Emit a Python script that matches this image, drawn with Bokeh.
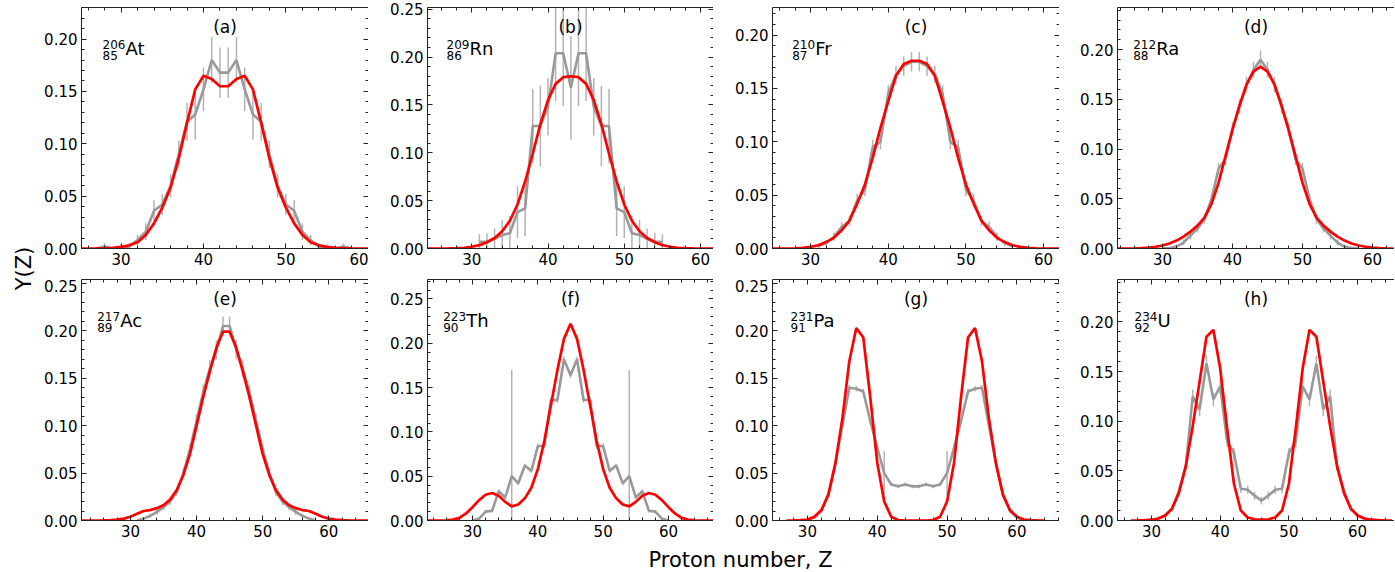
from bokeh.plotting import figure
from bokeh.models import (Range1d, LinearAxis, SingleIntervalTicker, Label, ColumnDataSource,
                          PrintfTickFormatter, CustomJSTickFormatter)
from bokeh.layouts import row, column
from bokeh.embed import file_html
from bokeh.resources import INLINE
from bokeh.core.properties import value

FONT = "DejaVu Sans"

# ---------------- data ----------------
panel_tags = ["(a)", "(b)", "(c)", "(d)", "(e)", "(f)", "(g)", "(h)"]
mass_numbers = ["206", "209", "210", "212", "217", "223", "231", "234"]
charge_numbers = ["85", "86", "87", "88", "89", "90", "91", "92"]
elements = ["At", "Rn", "Fr", "Ra", "Ac", "Th", "Pa", "U"]

# theory (red) curves: first Z of each list
theory_z0 = [25, 24, 25, 23, 22, 23, 27, 27]
theory_a = [0.0, 0.0, 0.0001, 0.0003, 0.0007, 0.0015, 0.003, 0.006, 0.013, 0.024, 0.039, 0.058,
            0.086, 0.12, 0.152, 0.165, 0.162, 0.155, 0.155, 0.162, 0.165, 0.152, 0.12, 0.086,
            0.058, 0.039, 0.024, 0.013, 0.006, 0.003, 0.0015, 0.0007, 0.0003, 0.0001, 0.0, 0.0]
theory_b = [0.0, 0.0, 0.0, 0.0001, 0.0003, 0.0008, 0.0018, 0.0035, 0.0065, 0.011, 0.018, 0.029,
            0.046, 0.07, 0.099, 0.13, 0.155, 0.172, 0.179, 0.18, 0.179, 0.172, 0.155, 0.13, 0.099,
            0.07, 0.046, 0.029, 0.018, 0.011, 0.0065, 0.0035, 0.0018, 0.0008, 0.0003, 0.0001,
            0.0, 0.0, 0.0]
theory_c = [0.0, 0.0, 0.0, 0.0002, 0.0006, 0.0015, 0.003, 0.006, 0.01, 0.017, 0.026, 0.042,
            0.06, 0.085, 0.113, 0.138, 0.162, 0.173, 0.176, 0.176, 0.173, 0.162, 0.138, 0.113,
            0.085, 0.06, 0.042, 0.026, 0.017, 0.01, 0.006, 0.003, 0.0015, 0.0006, 0.0002,
            0.0, 0.0, 0.0, 0.0]
theory_d = [0.0, 0.0, 0.0, 0.0001, 0.0003, 0.0008, 0.0018, 0.003, 0.005, 0.008, 0.012, 0.017,
            0.023, 0.031, 0.045, 0.066, 0.093, 0.12, 0.144, 0.165, 0.178, 0.183, 0.178, 0.165,
            0.144, 0.12, 0.093, 0.066, 0.045, 0.031, 0.023, 0.017, 0.012, 0.008, 0.005, 0.003,
            0.0018, 0.0008, 0.0003, 0.0001, 0.0]
theory_e = [0.0, 0.0, 0.0, 0.0, 0.0002, 0.0005, 0.001, 0.002, 0.004, 0.007, 0.01, 0.011, 0.013,
            0.016, 0.022, 0.032, 0.048, 0.07, 0.1, 0.13, 0.157, 0.182, 0.199, 0.199, 0.182, 0.157,
            0.13, 0.1, 0.07, 0.048, 0.032, 0.022, 0.016, 0.013, 0.011, 0.01, 0.007, 0.004, 0.002,
            0.001, 0.0005, 0.0002, 0.0, 0.0, 0.0, 0.0]
theory_f = [0.0, 0.0, 0.0, 0.0003, 0.001, 0.003, 0.008, 0.015, 0.023, 0.029, 0.031, 0.028, 0.021,
            0.016, 0.018, 0.025, 0.037, 0.058, 0.09, 0.13, 0.17, 0.205, 0.222, 0.205, 0.17, 0.13,
            0.09, 0.058, 0.037, 0.025, 0.018, 0.016, 0.021, 0.028, 0.031, 0.029, 0.023, 0.015,
            0.008, 0.003, 0.001, 0.0003, 0.0, 0.0, 0.0]
theory_g = [0.0, 0.0001, 0.0003, 0.001, 0.004, 0.011, 0.027, 0.06, 0.107, 0.168, 0.203, 0.193,
            0.13, 0.061, 0.02, 0.004, 0.0005, 0.0, 0.0, 0.0, 0.0, 0.0005, 0.004, 0.02, 0.061, 0.13,
            0.193, 0.203, 0.168, 0.107, 0.06, 0.027, 0.011, 0.004, 0.001, 0.0003, 0.0001, 0.0]
theory_h = [0.0, 0.0001, 0.0003, 0.0008, 0.002, 0.005, 0.012, 0.028, 0.055, 0.095, 0.14, 0.185,
            0.192, 0.153, 0.093, 0.037, 0.01, 0.003, 0.0012, 0.001, 0.0012, 0.003, 0.01, 0.037,
            0.093, 0.153, 0.192, 0.185, 0.14, 0.095, 0.055, 0.028, 0.012, 0.005, 0.002, 0.0008,
            0.0003, 0.0001, 0.0]

# experimental (grey) yields with error bars: first Z of each list
exp_z0 = [27, 31, 31, 30, 31, 30, 30, 31]
exp_a = [0.0, 0.002, 0.0, 0.001, 0.002, 0.008, 0.016, 0.036, 0.042, 0.06, 0.09, 0.121, 0.128,
         0.152, 0.18, 0.168, 0.168, 0.18, 0.152, 0.128, 0.121, 0.09, 0.06, 0.042, 0.036, 0.016,
         0.008, 0.002, 0.001, 0.0, 0.002, 0.0]
err_a = [0.0, 0.003, 0.0, 0.003, 0.003, 0.005, 0.008, 0.01, 0.01, 0.011, 0.013, 0.018, 0.024,
         0.021, 0.022, 0.024, 0.024, 0.022, 0.021, 0.024, 0.018, 0.013, 0.011, 0.01, 0.01, 0.008,
         0.005, 0.003, 0.003, 0.0, 0.003, 0.0]
exp_b = [0.007, 0.007, 0.01, 0.014, 0.016, 0.038, 0.042, 0.128, 0.128, 0.148, 0.204, 0.204, 0.168,
         0.204, 0.204, 0.148, 0.128, 0.128, 0.042, 0.038, 0.016, 0.014, 0.01, 0.007, 0.007]
err_b = [0.008, 0.009, 0.011, 0.016, 0.018, 0.027, 0.029, 0.039, 0.042, 0.03, 0.05, 0.055, 0.054,
         0.055, 0.05, 0.03, 0.042, 0.039, 0.029, 0.027, 0.018, 0.016, 0.011, 0.009, 0.008]
exp_c = [0.002, 0.005, 0.011, 0.02, 0.026, 0.045, 0.055, 0.095, 0.1, 0.145, 0.163, 0.171, 0.175,
         0.175, 0.171, 0.163, 0.145, 0.1, 0.095, 0.055, 0.045, 0.026, 0.02, 0.011, 0.005, 0.002]
err_c = [0.002, 0.003, 0.004, 0.005, 0.005, 0.006, 0.006, 0.007, 0.007, 0.008, 0.008, 0.009, 0.009,
         0.009, 0.009, 0.008, 0.008, 0.007, 0.007, 0.006, 0.006, 0.005, 0.005, 0.004, 0.003, 0.002]
exp_d = [0.0, 0.0005, 0.002, 0.006, 0.013, 0.02, 0.03, 0.05, 0.08, 0.09, 0.12, 0.143, 0.165, 0.18,
         0.19, 0.18, 0.165, 0.143, 0.12, 0.09, 0.08, 0.05, 0.03, 0.02, 0.013, 0.006, 0.002, 0.0005, 0.0]
err_d = [0.0, 0.001, 0.002, 0.003, 0.004, 0.004, 0.005, 0.005, 0.006, 0.006, 0.007, 0.007, 0.008,
         0.008, 0.009, 0.008, 0.008, 0.007, 0.007, 0.006, 0.006, 0.005, 0.005, 0.004, 0.004, 0.003,
         0.002, 0.001, 0.0]
exp_e = [0.0, 0.002, 0.005, 0.009, 0.014, 0.02, 0.03, 0.05, 0.075, 0.105, 0.135, 0.16, 0.18, 0.205,
         0.205, 0.18, 0.16, 0.135, 0.105, 0.075, 0.05, 0.03, 0.02, 0.014, 0.009, 0.005, 0.002, 0.0]
err_e = [0.0, 0.001, 0.002, 0.003, 0.003, 0.004, 0.004, 0.005, 0.006, 0.007, 0.008, 0.009, 0.01,
         0.01, 0.01, 0.01, 0.009, 0.008, 0.007, 0.006, 0.005, 0.004, 0.004, 0.003, 0.003, 0.002,
         0.001, 0.0]
exp_f = [0.0, 0.002, 0.01, 0.011, 0.033, 0.026, 0.05, 0.042, 0.062, 0.056, 0.084, 0.084, 0.136,
         0.136, 0.182, 0.164, 0.182, 0.136, 0.136, 0.084, 0.084, 0.056, 0.062, 0.042, 0.05, 0.026,
         0.033, 0.011, 0.01, 0.002, 0.0]
err_f = [0.0, 0.001, 0.002, 0.002, 0.002, 0.002, 0.12, 0.002, 0.002, 0.002, 0.003, 0.003, 0.003,
         0.003, 0.003, 0.003, 0.003, 0.003, 0.003, 0.003, 0.003, 0.002, 0.002, 0.002, 0.12, 0.002,
         0.002, 0.002, 0.002, 0.001, 0.0]
exp_g = [0.0, 0.003, 0.01, 0.028, 0.06, 0.1, 0.14, 0.139, 0.136, 0.105, 0.077, 0.05, 0.038, 0.036,
         0.038, 0.036, 0.036, 0.038, 0.036, 0.038, 0.05, 0.077, 0.105, 0.136, 0.139, 0.14, 0.1,
         0.06, 0.028, 0.01, 0.003, 0.0]
err_g = [0.0, 0.001, 0.002, 0.003, 0.003, 0.003, 0.003, 0.003, 0.003, 0.003, 0.003, 0.023, 0.002,
         0.002, 0.002, 0.002, 0.002, 0.002, 0.002, 0.002, 0.023, 0.003, 0.003, 0.003, 0.003, 0.003,
         0.003, 0.003, 0.003, 0.002, 0.001, 0.0]
exp_h = [0.002, 0.005, 0.012, 0.03, 0.055, 0.125, 0.112, 0.158, 0.122, 0.135, 0.08, 0.068, 0.032,
         0.031, 0.025, 0.02, 0.025, 0.031, 0.032, 0.068, 0.08, 0.135, 0.122, 0.158, 0.112, 0.125,
         0.055, 0.03, 0.012, 0.005, 0.002]
err_h = [0.001, 0.002, 0.003, 0.004, 0.005, 0.007, 0.007, 0.008, 0.007, 0.007, 0.006, 0.005, 0.004,
         0.004, 0.004, 0.004, 0.004, 0.004, 0.004, 0.005, 0.006, 0.007, 0.007, 0.008, 0.007, 0.007,
         0.005, 0.004, 0.003, 0.002, 0.001]

theory_all = [theory_a, theory_b, theory_c, theory_d, theory_e, theory_f, theory_g, theory_h]
exp_all = [exp_a, exp_b, exp_c, exp_d, exp_e, exp_f, exp_g, exp_h]
err_all = [err_a, err_b, err_c, err_d, err_e, err_f, err_g, err_h]

# ---------------- layout / style ----------------
x_ranges = [(25.2, 60.02), (24.2, 61.7), (25.1, 62.05), (23.57, 63.14),
            (22.6, 66.0), (23.1, 66.9), (25.0, 66.1), (25.05, 65.37)]
y_ends = [0.2302, 0.2518, 0.2259, 0.2426, 0.254, 0.272, 0.2542, 0.2427]
frame_w = [287, 286, 287, 277, 287, 286, 287, 277]
border_l = [43, 59, 59, 58, 43, 59, 59, 58]
label_dx = [21, 19, 19.7, 15.7, 15.7, 15.7, 18, 17]
FH = 241
TOP_BT, TOP_BB = 7, 31
BOT_BT, BOT_BB = 0, 24
YLAB_W = 38
XLAB_H = 28

GREY = "#999999"
EGREY = "#b3b3b3"
RED = "#ff0000"
AXC = "#222222"


def style_axis(ax, show_labels):
    ax.axis_line_color = AXC
    ax.axis_line_width = 1
    ax.major_tick_in = 5
    ax.major_tick_out = 0
    ax.minor_tick_in = 3
    ax.minor_tick_out = 0
    ax.major_tick_line_color = AXC
    ax.minor_tick_line_color = AXC
    ax.major_label_text_font = FONT
    ax.major_label_text_color = "black"
    if show_labels:
        ax.major_label_text_font_size = "15px"
        ax.major_label_standoff = 4
    else:
        ax.formatter = CustomJSTickFormatter(code="return ''")
        ax.major_label_text_font_size = "1px"
        ax.major_label_standoff = 0


def make_panel(i):
    top_row = i < 4
    fw = frame_w[i]
    x0, x1 = x_ranges[i]
    y1 = y_ends[i]
    p = figure(frame_width=fw, frame_height=FH,
               x_range=Range1d(x0, x1), y_range=Range1d(0, y1),
               output_backend="svg", toolbar_location=None,
               min_border_left=border_l[i], min_border_right=0,
               min_border_top=TOP_BT if top_row else BOT_BT,
               min_border_bottom=TOP_BB if top_row else BOT_BB,
               outline_line_color=None, background_fill_color="white",
               border_fill_color="white")
    p.xgrid.visible = False
    p.ygrid.visible = False

    def xt():
        return SingleIntervalTicker(interval=10, num_minor_ticks=5)

    def yt():
        return SingleIntervalTicker(interval=0.05, num_minor_ticks=5)

    p.xaxis[0].ticker = xt()
    p.yaxis[0].ticker = yt()
    p.yaxis[0].formatter = PrintfTickFormatter(format="%.2f")
    style_axis(p.xaxis[0], True)
    style_axis(p.yaxis[0], True)
    ax_top = LinearAxis(ticker=xt())
    style_axis(ax_top, False)
    p.add_layout(ax_top, "above")
    if fw > 280:
        ax_right = LinearAxis(ticker=yt())
        style_axis(ax_right, False)
        p.add_layout(ax_right, "right")

    # experimental yields with error bars
    ez = list(range(exp_z0[i], exp_z0[i] + len(exp_all[i])))
    ey = exp_all[i]
    ee = err_all[i]
    src = ColumnDataSource(dict(z=ez, y=ey,
                                lo=[a - b for a, b in zip(ey, ee)],
                                hi=[a + b for a, b in zip(ey, ee)]))
    p.segment(x0="z", y0="lo", x1="z", y1="hi", source=src, line_color=EGREY, line_width=1.5)
    p.line(x="z", y="y", source=src, line_color=GREY, line_width=2.6)

    # theory curve
    tz = list(range(theory_z0[i], theory_z0[i] + len(theory_all[i])))
    p.line(x=tz, y=theory_all[i], line_color=RED, line_width=2.7)

    # texts (positions in pixels below frame top / right of frame left)
    ppy = FH / y1
    ppx = fw / (x1 - x0)
    p.add_layout(Label(x=(x0 + x1) / 2, y=y1 - 19 / ppy, text=panel_tags[i],
                       text_font=FONT, text_font_size="17px", text_align="center",
                       text_baseline="middle", text_color="black"))
    lx = x0 + label_dx[i] / ppx
    p.add_layout(Label(x=lx, y=y1 - 36.5 / ppy, text=mass_numbers[i], text_font=FONT,
                       text_font_size="12px", text_align="left", text_baseline="middle",
                       text_color="black"))
    p.add_layout(Label(x=lx, y=y1 - 47.5 / ppy, text=charge_numbers[i], text_font=FONT,
                       text_font_size="12px", text_align="left", text_baseline="middle",
                       text_color="black"))
    p.add_layout(Label(x=lx + 23 / ppx, y=y1 - 41.3 / ppy, text=elements[i], text_font=FONT,
                       text_font_size="18px", text_align="left", text_baseline="middle",
                       text_color="black"))
    return p


panels = [make_panel(i) for i in range(8)]

rows_h = (TOP_BT + FH + TOP_BB) + (BOT_BT + FH + BOT_BB)
ylab = figure(frame_width=YLAB_W, frame_height=rows_h, x_range=Range1d(0, YLAB_W),
              y_range=Range1d(0, rows_h), output_backend="svg", toolbar_location=None,
              x_axis_location=None, y_axis_location=None, outline_line_color=None,
              min_border=0, border_fill_color="white", background_fill_color="white")
ylab.grid.visible = False
ylab.text(x=[23], y=[rows_h - 268], text=["Y(Z)"], angle=1.5707963,
          text_font=value(FONT), text_font_size="21px", text_align="center",
          text_baseline="middle", text_color="black")

total_w = YLAB_W + sum(border_l[:4]) + sum(frame_w[:4])
xlab = figure(frame_width=total_w, frame_height=XLAB_H, x_range=Range1d(0, total_w),
              y_range=Range1d(0, XLAB_H), output_backend="svg", toolbar_location=None,
              x_axis_location=None, y_axis_location=None, outline_line_color=None,
              min_border=0, border_fill_color="white", background_fill_color="white")
xlab.grid.visible = False
xlab.text(x=[740], y=[XLAB_H - (559 - rows_h)], text=["Proton number, Z"], text_font=value(FONT),
          text_font_size="21px", text_align="center", text_baseline="middle",
          text_color="black")

layout = column(row(ylab, column(row(*panels[:4]), row(*panels[4:]))), xlab)

open("out.html", "w").write(file_html(layout, INLINE))
